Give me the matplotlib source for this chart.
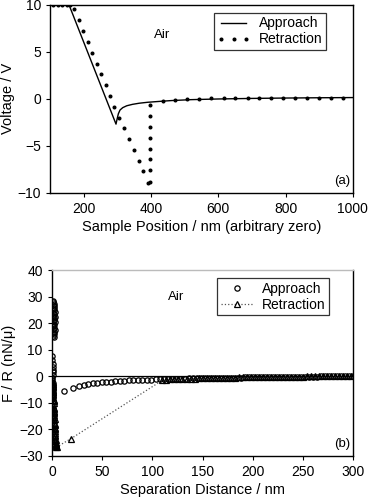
import matplotlib
matplotlib.use("Agg")
import matplotlib.pyplot as plt

plt.rcParams.update({
    "font.family": ["Liberation Sans", "DejaVu Sans"],
    "font.size": 10,
    "axes.linewidth": 1.0,
    "xtick.direction": "out",
    "ytick.direction": "out",
    "xtick.major.size": 3,
    "ytick.major.size": 3,
})

# ---- panel (a): voltage vs sample position ----
APP_V_X = [100, 156, 296, 299, 303, 308, 316, 328, 345, 365, 390, 420, 460,
           520, 600, 700, 800, 900, 1000]
APP_V_Y = [10, 10, -2.7, -2.2, -1.6, -1.2, -0.95, -0.75, -0.6, -0.48, -0.38,
           -0.3, -0.2, -0.1, -0.03, 0.03, 0.07, 0.1, 0.12]

RET_V_X = [110, 123, 136, 149, 160, 171, 185, 199, 213, 226, 239, 252, 265,
           278, 291, 305, 321, 335, 349, 363, 377, 391, 397,
           397, 397, 397, 397, 397, 397, 397,
           437, 472, 508, 544, 579, 616, 651, 687, 722, 757, 793, 828, 864,
           899, 935, 970]
RET_V_Y = [10, 10, 10, 10, 10, 9.5, 8.4, 7.2, 6.0, 4.9, 3.7, 2.6, 1.5,
           0.3, -0.9, -2.0, -3.1, -4.3, -5.4, -6.6, -7.7, -8.9, -8.8,
           -7.6, -6.4, -5.3, -4.2, -3.0, -1.85, -0.7,
           -0.27, -0.15, -0.05, 0.0, 0.05, 0.07, 0.08, 0.08, 0.09, 0.09, 0.1,
           0.1, 0.1, 0.1, 0.1, 0.1]

# ---- panel (b): force vs separation ----
APP_F_X = [1.0, 1.5, 2.0, 1.2, 2.5, 1.8, 1.0, 2.2, 2.8, 1.5, 2.0, 1.2, 2.6,
           1.7, 2.3, 1.0, 2.9, 1.6, 2.1, 1.4, 2.4, 1.1, 2.7, 1.9, 1.3, 2.2,
           1.6, 2.0,
           0.3, 0.5, 0.8, 1.0, 1.2, 1.0, 0.8, 0.6, 0.5, 0.7, 1.0, 1.3, 1.5,
           1.2, 1.6,
           12.5, 21.5, 27, 31.5, 36, 40.5, 45, 49.5, 54, 58.5, 63, 67.5, 72,
           76.5, 81, 85.5, 90, 94.5, 99, 103.5, 108,
           112, 116, 120, 124, 128, 132, 136, 140, 144, 148, 152, 156, 160,
           164, 168, 172, 176, 180, 184, 188, 192, 196, 200, 204, 208, 212,
           216, 220, 224, 228, 232, 236, 240, 244, 248, 252, 256, 260, 264,
           268, 272, 276, 280, 284, 288, 292, 296, 300]
APP_F_Y = [28.3, 27.8, 27.3, 26.8, 26.3, 25.8, 25.3, 24.8, 24.3, 23.8, 23.3,
           22.8, 22.3, 21.8, 21.3, 20.8, 20.3, 19.8, 19.3, 18.8, 18.3, 17.8,
           17.3, 16.8, 16.3, 15.8, 15.3, 14.9,
           7.5, 6.0, 4.5, 3.5, 2.5, 1.5, 0.5, -0.5, -1.5, -2.5, -3.5, -4.5,
           -5.5, -6.5, -7.0,
           -5.6, -4.4, -3.7, -3.3, -3.0, -2.7, -2.5, -2.3, -2.1, -2.0, -1.9,
           -1.8, -1.7, -1.6, -1.5, -1.45, -1.4, -1.3, -1.25, -1.2, -1.15,
           -1.1, -1.05, -1.0, -0.95, -0.9, -0.85, -0.8, -0.78, -0.75, -0.72,
           -0.7, -0.67, -0.64, -0.62, -0.6, -0.57, -0.55, -0.52, -0.5, -0.48,
           -0.45, -0.43, -0.4, -0.38, -0.36, -0.34, -0.32, -0.3, -0.28, -0.26,
           -0.24, -0.22, -0.2, -0.18, -0.16, -0.15, -0.13, -0.12, -0.1, -0.08,
           -0.06, -0.05, -0.03, -0.02, 0.0, 0.0, 0.02, 0.05]

RET_F_X = [1.0, 1.3, 0.8, 1.5, 1.2, 1.8, 1.5, 2.0, 1.7, 2.2, 2.0, 2.5, 2.3,
           2.8, 2.6, 3.0, 3.2, 3.0, 3.5, 3.3, 3.8, 3.6, 4.0,
           0.9, 1.4, 1.1, 1.6, 1.9, 1.7, 2.1, 2.4, 2.2, 2.7, 2.9, 3.1, 3.4,
           3.6, 3.9, 4.1,
           5.0, 19.0, 110.0,
           114, 118, 122, 126, 130, 134, 138, 142, 146, 150, 154, 158, 162,
           166, 170, 174, 178, 182, 186, 190, 194, 198, 202, 206, 210, 214,
           218, 222, 226, 230, 234, 238, 242, 246, 250, 254, 258, 262, 266,
           270, 274, 278, 282, 286, 290, 294, 298]
RET_F_Y = [-2.0, -3.5, -5.0, -6.5, -8.0, -9.5, -11.0, -12.5, -13.5, -14.5,
           -15.5, -16.5, -17.5, -18.5, -19.5, -20.5, -21.5, -22.5, -23.5,
           -24.5, -25.5, -26.2, -26.6,
           -2.8, -4.2, -5.8, -7.2, -8.8, -10.2, -11.8, -13.0, -14.0, -16.0,
           -18.0, -20.0, -22.0, -24.0, -25.0, -26.0,
           -26.6, -23.5, -1.5,
           -1.3, -1.2, -1.1, -1.05, -1.0, -0.95, -0.9, -0.85, -0.8, -0.76,
           -0.72, -0.68, -0.65, -0.62, -0.58, -0.55, -0.52, -0.49, -0.46,
           -0.43, -0.4, -0.38, -0.35, -0.33, -0.3, -0.28, -0.26, -0.24, -0.22,
           -0.2, -0.18, -0.16, -0.14, -0.12, -0.1, -0.09, -0.08, -0.06, -0.05,
           -0.04, -0.02, 0.0, 0.0, 0.02, 0.03, 0.05, 0.06]

fig = plt.figure(figsize=(3.68, 5.01), dpi=100)

# panel (a)
ax1 = fig.add_axes([0.136, 0.615, 0.823, 0.376])
ax1.plot(APP_V_X, APP_V_Y, color="black", lw=1.0, label="Approach")
ax1.plot(RET_V_X, RET_V_Y, ls="none", marker="o", ms=1.9, color="black",
         label="Retraction")
ax1.set_xlim(100, 1000)
ax1.set_ylim(-10, 10)
ax1.set_xticks([200, 400, 600, 800, 1000])
ax1.set_yticks([-10, -5, 0, 5, 10])
ax1.set_xlabel("Sample Position / nm (arbitrary zero)", fontsize=10.5, labelpad=3)
ax1.set_ylabel("Voltage / V", fontsize=10.5, labelpad=2)
ax1.text(434, 6.8, "Air", ha="center", va="center", fontsize=9.5)
ax1.text(0.99, 0.03, "(a)", transform=ax1.transAxes, ha="right", va="bottom",
         fontsize=9.5)
leg1 = ax1.legend(loc="upper right", bbox_to_anchor=(0.92, 0.97), numpoints=3,
                  handlelength=2.4, fontsize=10, frameon=True, fancybox=False,
                  edgecolor="black", borderpad=0.25, labelspacing=0.15,
                  handletextpad=0.6, borderaxespad=0.2)
leg1.get_frame().set_linewidth(0.9)

# panel (b)
ax2 = fig.add_axes([0.141, 0.090, 0.819, 0.371])
ax2.axhline(0, color="black", lw=0.9, zorder=1)
ax2.plot(APP_F_X, APP_F_Y, ls="none", marker="o", ms=3.8, mfc="none",
         mec="black", mew=0.9, label="Approach", zorder=3)
ax2.plot(RET_F_X, RET_F_Y, ls=":", lw=0.9, color="#555555", marker="^",
         ms=3.8, mfc="none", mec="black", mew=0.9, label="Retraction", zorder=2)
ax2.set_xlim(0, 300)
ax2.set_ylim(-30, 40)
ax2.set_xticks([0, 50, 100, 150, 200, 250, 300])
ax2.set_yticks([-30, -20, -10, 0, 10, 20, 30, 40])
ax2.spines["top"].set_color("#bbbbbb")
ax2.set_xlabel("Separation Distance / nm", fontsize=10.5, labelpad=3)
ax2.set_ylabel("F / R (nN/\u03bc)", fontsize=10.5, labelpad=2)
ax2.text(124, 29.9, "Air", ha="center", va="center", fontsize=9.5)
ax2.text(0.99, 0.03, "(b)", transform=ax2.transAxes, ha="right", va="bottom",
         fontsize=9.5)
leg2 = ax2.legend(loc="upper right", bbox_to_anchor=(0.93, 0.97), numpoints=1,
                  handlelength=2.4, fontsize=10, frameon=True, fancybox=False,
                  edgecolor="black", borderpad=0.25, labelspacing=0.15,
                  handletextpad=0.6, borderaxespad=0.2)
leg2.get_frame().set_linewidth(0.9)

fig.savefig("out.png", dpi=100)
